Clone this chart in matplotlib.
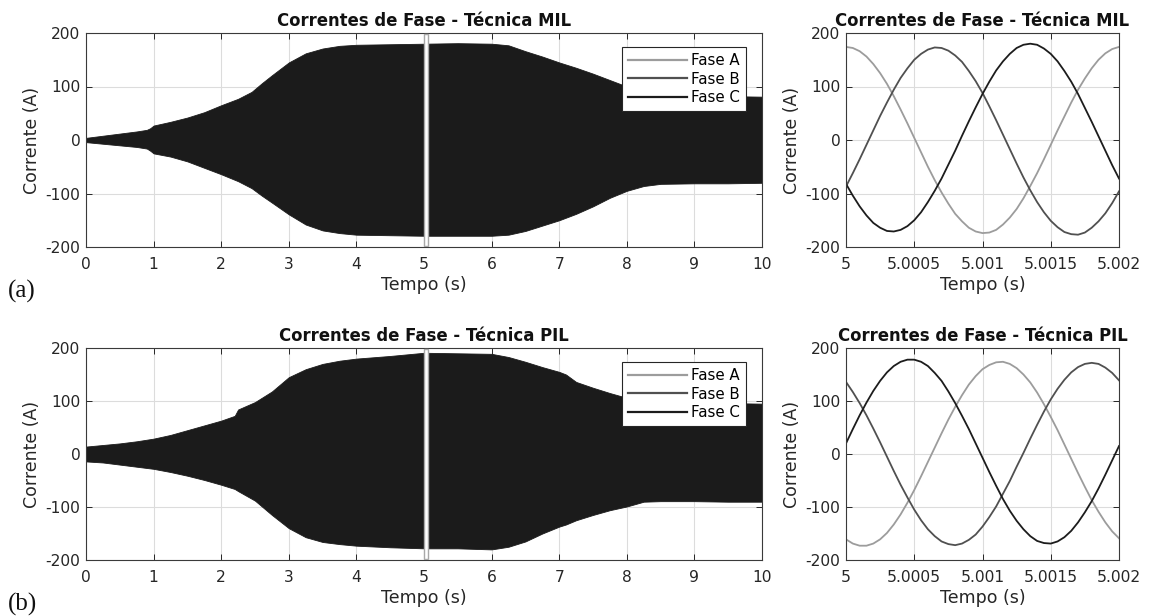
import numpy as np
import matplotlib
matplotlib.use("Agg")
import matplotlib.pyplot as plt
from matplotlib.lines import Line2D
from matplotlib.patches import Rectangle

plt.rcParams['font.family'] = ['DejaVu Sans']
plt.rcParams['axes.unicode_minus'] = False

# ---- envelope of the 10 s phase-current records (A) ----
t_mil = [0, 0.25, 0.5, 0.75, 0.9, 0.95, 1.0, 1.25, 1.5, 1.75, 2.0, 2.25, 2.45, 2.6,
         2.75, 3.0, 3.25, 3.5, 3.75, 4.0, 4.5, 5.0, 5.5, 6.0, 6.25, 6.5, 6.75, 7.0,
         7.25, 7.5, 7.75, 8.0, 8.25, 8.5, 9.0, 9.5, 10.0]
upper_mil = [4, 8, 12, 16, 19, 22, 27, 34, 42, 52, 65, 77, 90, 106,
             121, 145, 162, 171, 176, 178, 179, 180, 181, 180, 177, 166, 156, 145,
             135, 124, 112, 100, 88, 83, 82, 82, 81]
lower_mil = [-4, -7, -10, -13, -16, -20, -25, -31, -40, -52, -64, -77, -90, -104,
             -117, -139, -158, -169, -174, -177, -178, -179, -179, -179, -177, -170, -160, -150,
             -138, -124, -108, -95, -86, -82, -81, -81, -80]

t_pil = [0, 0.25, 0.5, 0.75, 1.0, 1.25, 1.5, 1.75, 2.0, 2.2, 2.25, 2.5, 2.75, 3.0,
         3.25, 3.5, 3.75, 4.0, 4.5, 5.0, 5.5, 6.0, 6.25, 6.5, 6.75, 7.0, 7.1, 7.25,
         7.5, 7.75, 8.0, 8.25, 8.5, 9.0, 9.5, 10.0]
upper_pil = [14, 17, 20, 24, 29, 36, 45, 54, 63, 72, 84, 98, 118, 145,
             160, 170, 176, 180, 185, 191, 190, 189, 183, 174, 164, 155, 150, 136,
             125, 115, 106, 100, 97, 96, 96, 95]
lower_pil = [-14, -16, -20, -24, -28, -34, -41, -49, -58, -66, -70, -88, -115, -140,
             -157, -166, -170, -173, -176, -178, -178, -180, -175, -165, -150, -137, -133, -125,
             -115, -106, -99, -90, -89, -89, -90, -90]

# ---- detail window 5 s .. 5.002 s, samples every 50 us (A) ----
fase_a_mil = [174, 172, 166, 156, 142, 125, 105, 82, 57, 31, 4, -23, -50, -75, -98, -119,
              -138, -152, -164, -171, -174, -173, -168, -158, -145, -129, -109, -86, -62,
              -36, -9, 18, 44, 70, 94, 115, 134, 150, 162, 170, 174]
fase_b_mil = [-87, -62, -36, -9, 18, 45, 70, 94, 116, 134, 150, 161, 169, 173, 172, 167,
              158, 146, 129, 110, 88, 63, 37, 10, -17, -44, -70, -94, -116, -135, -151,
              -163, -172, -176, -177, -173, -164, -152, -137, -118, -96]
fase_c_mil = [-82, -104, -124, -141, -155, -164, -170, -171, -168, -161, -150, -135, -116,
              -95, -72, -46, -20, 8, 35, 61, 86, 109, 130, 147, 161, 172, 178, 180, 178,
              171, 161, 147, 129, 109, 86, 60, 34, 7, -20, -47, -72]

fase_a_pil = [-161, -169, -173, -173, -169, -161, -149, -133, -114, -92, -68, -42, -15, 12,
              39, 65, 89, 111, 131, 147, 160, 168, 173, 174, 170, 162, 150, 135, 116, 94,
              70, 45, 18, -9, -36, -62, -87, -109, -129, -146, -159]
fase_b_pil = [136, 117, 96, 73, 48, 22, -5, -32, -58, -82, -105, -125, -142, -155, -165,
              -170, -172, -169, -162, -152, -137, -119, -99, -75, -51, -24, 2, 29, 55, 80,
              103, 123, 140, 154, 164, 170, 172, 170, 163, 153, 139]
fase_c_pil = [20, 47, 73, 97, 119, 138, 154, 166, 174, 178, 178, 174, 166, 153, 138, 118,
              96, 72, 47, 20, -7, -34, -60, -85, -107, -126, -142, -155, -164, -168, -169,
              -165, -157, -145, -129, -110, -89, -65, -39, -12, 15]

phase_names = ['Fase A', 'Fase B', 'Fase C']
phase_colors = ['#9c9c9c', '#505050', '#1c1c1c']
zoom_ticks = [5, 5.0005, 5.001, 5.0015, 5.002]
zoom_ticklabels = ['5', '5.0005', '5.001', '5.0015', '5.002']
titles = ['Correntes de Fase - Técnica MIL', 'Correntes de Fase - Técnica PIL']
tags = ['(a)', '(b)']

W, H = 1149, 616
fig = plt.figure(figsize=(W / 100, H / 100), dpi=100)

def fig_rect(x0, y0, x1, y1):
    return [x0 / W, 1 - y1 / H, (x1 - x0) / W, (y1 - y0) / H]

AX_EDGE = '#3a3a3a'
GRID = '#dcdcdc'

def style(ax):
    ax.set_axisbelow(True)
    ax.grid(True, color=GRID, lw=0.8)
    ax.tick_params(direction='in', top=True, right=True, length=4, width=0.7,
                   colors='#262626', labelsize=11.2, pad=4)
    ax.tick_params(axis='x', pad=7)
    for s in ax.spines.values():
        s.set_color(AX_EDGE)
        s.set_linewidth(0.8)
    ax.set_ylim(-200, 200)
    ax.set_yticks([-200, -100, 0, 100, 200])
    ax.set_ylabel('Corrente (A)', fontsize=12.5, color='#262626', labelpad=3)
    ax.set_xlabel('Tempo (s)', fontsize=12.5, color='#262626', labelpad=3)

rows = [
    (33, 247, t_mil, upper_mil, lower_mil, (fase_a_mil, fase_b_mil, fase_c_mil)),
    (348, 560, t_pil, upper_pil, lower_pil, (fase_a_pil, fase_b_pil, fase_c_pil)),
]
t_zoom = np.linspace(5, 5.002, len(fase_a_mil))

for i, (y0, y1, tt, up, lo, phases) in enumerate(rows):
    ax = fig.add_axes(fig_rect(86, y0, 762, y1))
    ax.fill_between(tt, lo, up, color='#1b1b1b', lw=0.6, edgecolor='#1b1b1b')
    ax.add_patch(Rectangle((5.0, -198), 0.065, 396, facecolor='white',
                           edgecolor='#a8a8a8', lw=1.0, zorder=3))
    ax.set_xlim(0, 10)
    ax.set_xticks(range(0, 11))
    style(ax)
    ax.set_title(titles[i], fontsize=11.9, fontweight='bold', pad=5, color='#111111')
    handles = [Line2D([], [], color=c, lw=1.6) for c in phase_colors]
    leg = ax.legend(handles, phase_names, loc='upper right',
                    bbox_to_anchor=(1 - 16 / 676, 1 - 14 / (y1 - y0)),
                    borderaxespad=0, fancybox=False, framealpha=1,
                    edgecolor='#262626', fontsize=10.8, handlelength=3.9,
                    handletextpad=0.3, labelspacing=0.24, borderpad=0.4)
    leg.get_frame().set_linewidth(0.8)
    leg.set_zorder(5)

    axr = fig.add_axes(fig_rect(846, y0, 1119, y1))
    for vals, c in zip(phases, phase_colors):
        axr.plot(t_zoom, vals, color=c, lw=1.3)
    axr.set_xlim(5, 5.002)
    axr.set_xticks(zoom_ticks)
    axr.set_xticklabels(zoom_ticklabels)
    style(axr)
    axr.set_title(titles[i], fontsize=11.9, fontweight='bold', pad=5, color='#111111')

    fig.text(8 / W, 1 - (y1 + 44) / H, tags[i], family='Liberation Serif',
             fontsize=18, va='center', ha='left', color='#111111')

fig.savefig('out.png', dpi=100, facecolor='white')
